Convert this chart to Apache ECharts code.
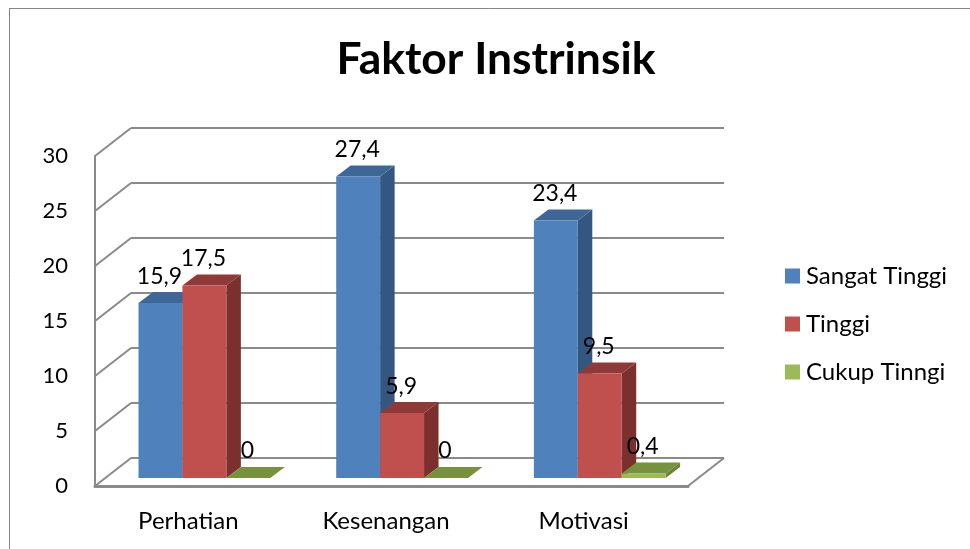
<!DOCTYPE html>
<html><head><meta charset="utf-8">
<style>html,body{margin:0;padding:0;background:#fff}#c{width:970px;height:549px}</style>
<script src="https://cdn.jsdelivr.net/npm/echarts@6/dist/echarts.min.js"></script>
</head><body><div id="c"></div>
<script>
const categories = ['Perhatian', 'Kesenangan', 'Motivasi'];
const sangatTinggi = [15.9, 27.4, 23.4];
const tinggi = [17.5, 5.9, 9.5];
const cukupTinggi = [0, 0, 0.4];
const yTicks = [0, 5, 10, 15, 20, 25, 30];
const seriesNames = ['Sangat Tinggi', 'Tinggi', 'Cukup Tinngi'];

const FONT = 'Lato';
const GRID_COLOR = '#8a8a8a';
const WALL_DX = 36, WALL_DY = 28, BASE_DY = 8, DEPTH_DX = 14.5, DEPTH_DY = 11;
const palette = [
  {front: '#4F81BD', top: '#3E6696', side: '#345781'},
  {front: '#C0504D', top: '#8F3A38', side: '#7B302E'},
  {front: '#9BBB59', top: '#76923C', side: '#6A8535'}
];

function barSeries(name, values, idx) {
  const c = palette[idx];
  return {
    name, type: 'custom', z: 5 + idx,
    itemStyle: {color: c.front},
    data: values.map((v, i) => [i, v]),
    renderItem(params, api) {
      const cat = api.value(0), val = api.value(1);
      const catW = api.size([1, 0])[0], w = catW / 4.5;
      const center = api.coord([cat, 0]);
      const x0 = center[0] - catW / 2 + w + idx * w - 0.4, x1 = x0 + w;
      const yb = center[1] - BASE_DY;
      const yt = api.coord([cat, val])[1] - BASE_DY;
      const poly = (pts, fill) => ({type: 'polygon', shape: {points: pts}, style: {fill}});
      return {type: 'group', children: [
        poly([[x1, yb], [x1 + DEPTH_DX, yb - DEPTH_DY], [x1 + DEPTH_DX, yt - DEPTH_DY], [x1, yt]], c.side),
        poly([[x0, yt], [x0 + DEPTH_DX, yt - DEPTH_DY], [x1 + DEPTH_DX, yt - DEPTH_DY], [x1, yt]], c.top),
        {type: 'rect', shape: {x: x0, y: yt, width: w, height: yb - yt}, style: {fill: c.front}},
        {type: 'text', x: (x0 + x1) / 2 - 1, y: yt - 27,
         style: {text: String(val).replace('.', ','), fill: '#000', font: '23px ' + FONT, align: 'center', verticalAlign: 'middle'}}
      ]};
    }
  };
}

const wallSeries = {
  type: 'custom', z: 2, silent: true,
  data: yTicks.map(t => [0, t]),
  renderItem(params, api) {
    const y = api.coord([0, api.value(1)])[1];
    const s = params.coordSys;
    const st = {stroke: GRID_COLOR, lineWidth: 2, fill: null};
    const kids = [
      {type: 'line', shape: {x1: s.x, y1: y, x2: s.x + WALL_DX, y2: y - WALL_DY}, style: st},
      {type: 'line', shape: {x1: s.x + WALL_DX, y1: y - WALL_DY, x2: s.x + s.width + WALL_DX, y2: y - WALL_DY}, style: st}
    ];
    if (api.value(1) === 0) kids.push({type: 'line', shape: {x1: s.x + s.width, y1: y, x2: s.x + s.width + WALL_DX, y2: y - WALL_DY}, style: st});
    return {type: 'group', children: kids};
  }
};

const chart = echarts.init(document.getElementById('c'), null, {renderer: 'canvas'});
chart.setOption({
  animation: false,
  backgroundColor: '#fff',
  textStyle: {fontFamily: FONT},
  title: {text: 'Faktor Instrinsik', left: 496, top: 38, textAlign: 'center', padding: 0,
    textStyle: {fontFamily: FONT, fontWeight: 'bold', fontSize: 44.4, color: '#000'}},
  legend: {orient: 'vertical', left: 785, top: 264, padding: 0, itemWidth: 15, itemHeight: 15, itemGap: 24, icon: 'rect',
    data: seriesNames, selectedMode: false,
    textStyle: {fontFamily: FONT, fontSize: 24, color: '#000', padding: [0, 0, 0, 1]}},
  grid: {left: 95, right: 282, top: 156, bottom: 63, containLabel: false},
  xAxis: {type: 'category', data: categories, boundaryGap: true,
    axisLine: {lineStyle: {color: GRID_COLOR, width: 3}}, axisTick: {show: false},
    axisLabel: {fontSize: 24, color: '#000', margin: 23, padding: [0, 11, 0, 0], fontFamily: FONT}},
  yAxis: {type: 'value', min: 0, max: 30, interval: 5,
    axisLine: {show: true, lineStyle: {color: GRID_COLOR, width: 2}}, axisTick: {show: false}, splitLine: {show: false},
    axisLabel: {fontSize: 22, color: '#000', margin: 27, padding: [3, 0, 0, 0], fontFamily: FONT}},
  graphic: [
    {type: 'line', silent: true, shape: {x1: 9, y1: 8.5, x2: 970, y2: 8.5}, style: {stroke: '#868686', lineWidth: 1}},
    {type: 'line', silent: true, shape: {x1: 9.5, y1: 8, x2: 9.5, y2: 549}, style: {stroke: '#868686', lineWidth: 1}}
  ],
  series: [wallSeries, barSeries(seriesNames[0], sangatTinggi, 0), barSeries(seriesNames[1], tinggi, 1), barSeries(seriesNames[2], cukupTinggi, 2)]
});
</script></body></html>
